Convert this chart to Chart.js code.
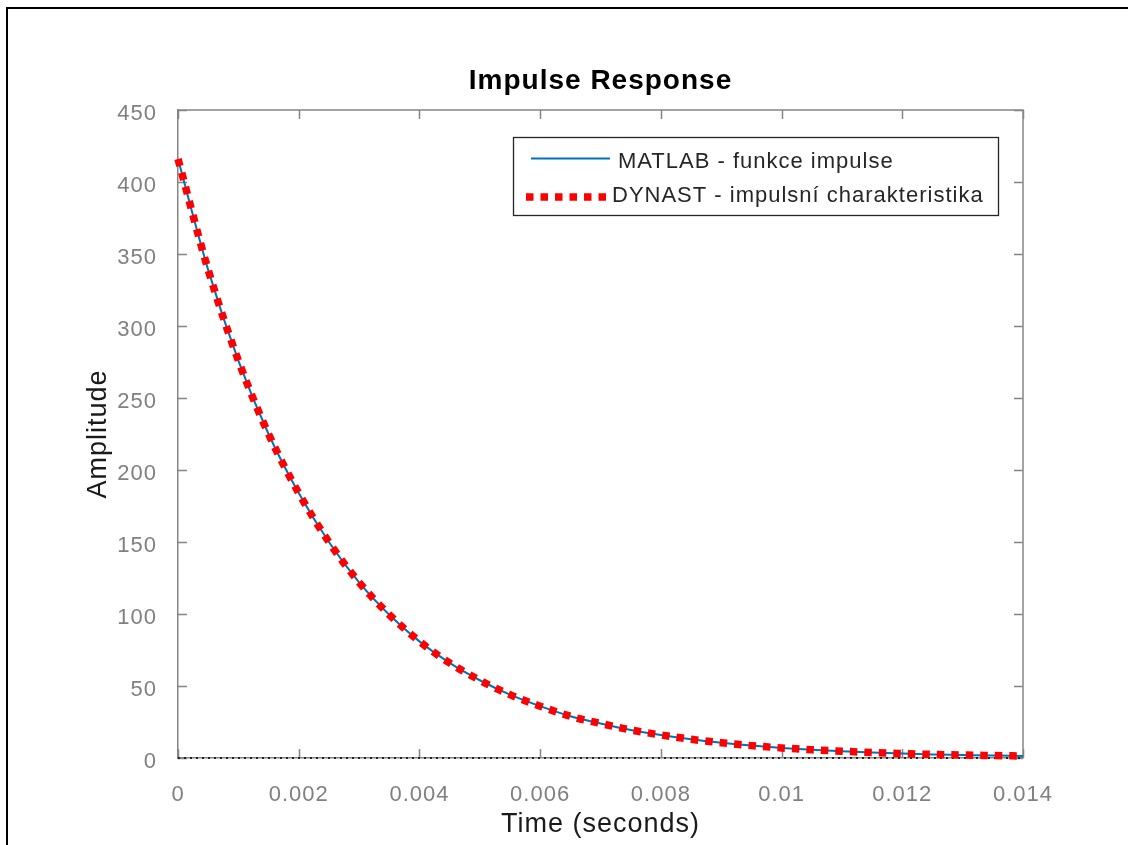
<!DOCTYPE html>
<html lang="en">
<head>
    <meta charset="UTF-8">
    <title>Impulse Response</title>
    <script src="https://cdn.jsdelivr.net/npm/chart.js"></script>
    <style>
        html, body {
            margin: 0;
            padding: 0;
            background: #fff;
            overflow: hidden;
        }
        .frame {
            position: absolute;
            left: 6px;
            top: 7px;
            width: 1200px;
            height: 900px;
            border-left: 2px solid #000;
            border-top: 2px solid #000;
        }
        .wrap {
            position: absolute;
            left: 0;
            top: 0;
            width: 1128px;
            height: 845px;
        }
    </style>
</head>
<body>
    <div class="frame"></div>
    <div class="wrap"><canvas id="impulse"></canvas></div>
    <script>
        // values (time in seconds)
        const timeSec = [0, 0.0005, 0.001, 0.0015, 0.002, 0.0025, 0.003, 0.0035, 0.004, 0.0045,
            0.005, 0.0055, 0.006, 0.0065, 0.007, 0.0075, 0.008, 0.0085, 0.009, 0.0095,
            0.01, 0.0105, 0.011, 0.0115, 0.012, 0.0125, 0.013, 0.0135, 0.014];
        const matlabImpulse = [416, 339, 276, 225, 184, 150, 122, 99.5, 81, 66,
            54, 44, 36, 29, 24, 19.5, 16, 13, 10.6, 8.6,
            7, 5.7, 4.7, 3.8, 3.1, 2.5, 2.1, 1.7, 1.4];
        const dynastImpulse = [416, 339, 276, 225, 184, 150, 122, 99.5, 81, 66,
            54, 44, 36, 29, 24, 19.5, 16, 13, 10.6, 8.6,
            7, 5.7, 4.7, 3.8, 3.1, 2.5, 2.1, 1.7, 1.4];
        const zeroLineX = [0, 0.014];
        const zeroLineY = [0, 0];

        const xTicks = [0, 0.002, 0.004, 0.006, 0.008, 0.01, 0.012, 0.014];
        const xTickLabels = ['0', '0.002', '0.004', '0.006', '0.008', '0.01', '0.012', '0.014'];
        const yTicks = [0, 50, 100, 150, 200, 250, 300, 350, 400, 450];
        const yTickLabels = ['0', '50', '100', '150', '200', '250', '300', '350', '400', '450'];

        const seriesNames = ['MATLAB - funkce impulse', 'DYNAST - impulsní charakteristika'];

        const axisGray = '#858585';
        const matlabBlue = '#0072BD';
        const dynastRed = '#ff0000';

        Chart.defaults.font.family = "'Liberation Sans', Arial, sans-serif";

        const toPoints = (xs, ys) => xs.map((x, i) => ({ x: x, y: ys[i] }));

        // MATLAB-ish text looks a bit wider than Arial
        const spacing = {
            id: 'spacing',
            beforeUpdate(chart) { chart.ctx.letterSpacing = '1px'; },
            beforeDraw(chart) { chart.ctx.letterSpacing = '1px'; }
        };

        // box on + ticks pointing inward on all four sides
        const axesBox = {
            id: 'axesBox',
            beforeDatasetsDraw(chart) {
                const { ctx, chartArea: a, scales: { x, y } } = chart;
                const len = 9;
                ctx.save();
                ctx.strokeStyle = axisGray;
                ctx.lineWidth = 1.5;
                ctx.beginPath();
                x.ticks.forEach(t => {
                    const px = Math.round(x.getPixelForValue(t.value)) + 0.5;
                    ctx.moveTo(px, a.bottom); ctx.lineTo(px, a.bottom - len);
                    ctx.moveTo(px, a.top); ctx.lineTo(px, a.top + len);
                });
                y.ticks.forEach(t => {
                    const py = Math.round(y.getPixelForValue(t.value)) + 0.5;
                    ctx.moveTo(a.left, py); ctx.lineTo(a.left + len, py);
                    ctx.moveTo(a.right, py); ctx.lineTo(a.right - len, py);
                });
                ctx.moveTo(a.left, a.top); ctx.lineTo(a.right, a.top); ctx.lineTo(a.right, a.bottom);
                ctx.stroke();
                ctx.restore();
            }
        };

        const boxLegend = {
            id: 'boxLegend',
            afterDraw(chart) {
                const ctx = chart.ctx;
                const ds = chart.data.datasets;
                ctx.save();
                ctx.fillStyle = '#fff';
                ctx.fillRect(513, 137, 485, 78);
                ctx.strokeStyle = '#262626';
                ctx.lineWidth = 1.3;
                ctx.strokeRect(513.5, 137.5, 485, 78);

                ctx.lineCap = 'butt';
                ctx.strokeStyle = ds[0].borderColor;
                ctx.lineWidth = ds[0].borderWidth;
                ctx.beginPath();
                ctx.moveTo(531, 158.5); ctx.lineTo(610, 158.5);
                ctx.stroke();

                ctx.strokeStyle = ds[1].borderColor;
                ctx.lineWidth = ds[1].borderWidth;
                ctx.setLineDash(ds[1].borderDash);
                ctx.beginPath();
                ctx.moveTo(526, 197); ctx.lineTo(612, 197);
                ctx.stroke();
                ctx.setLineDash([]);

                ctx.letterSpacing = '1px';
                ctx.fillStyle = '#262626';
                ctx.font = "22px 'Liberation Sans', Arial, sans-serif";
                ctx.textBaseline = 'middle';
                ctx.fillText(ds[0].label, 618, 162);
                ctx.fillText(ds[1].label, 612, 196);
                ctx.restore();
            }
        };

        new Chart(document.getElementById('impulse'), {
            type: 'line',
            data: {
                datasets: [
                    {
                        label: seriesNames[0],
                        data: toPoints(timeSec, matlabImpulse),
                        borderColor: matlabBlue,
                        borderWidth: 2,
                        pointRadius: 0,
                        cubicInterpolationMode: 'monotone',
                        order: 1
                    },
                    {
                        label: seriesNames[1],
                        data: toPoints(timeSec, dynastImpulse),
                        borderColor: dynastRed,
                        borderWidth: 7.5,
                        borderDash: [7.5, 7],
                        borderCapStyle: 'butt',
                        pointRadius: 0,
                        cubicInterpolationMode: 'monotone',
                        clip: false,
                        order: 0
                    },
                    {
                        label: 'zero',
                        data: toPoints(zeroLineX, zeroLineY),
                        borderColor: '#222',
                        borderWidth: 2,
                        borderDash: [2, 4],
                        pointRadius: 0,
                        clip: false,
                        order: 2
                    }
                ]
            },
            options: {
                responsive: true,
                maintainAspectRatio: false,
                animation: false,
                layout: { padding: { top: 0, left: 0, right: 105, bottom: 0 } },
                plugins: {
                    legend: { display: false },
                    tooltip: { enabled: false },
                    title: {
                        display: true,
                        fullSize: false,
                        text: 'Impulse Response',
                        color: '#000',
                        font: { size: 28, weight: 'bold' },
                        padding: { top: 64, bottom: 12.4 }
                    }
                },
                scales: {
                    x: {
                        type: 'linear',
                        min: 0,
                        max: 0.014,
                        afterBuildTicks: s => { s.ticks = xTicks.map(v => ({ value: v })); },
                        afterFit: s => { s.height = 87; },
                        grid: { display: false },
                        border: { display: true, color: axisGray, width: 1.5 },
                        ticks: {
                            color: '#808080',
                            font: { size: 22 },
                            padding: 16,
                            maxRotation: 0,
                            autoSkip: false,
                            callback: (v, i) => xTickLabels[i]
                        },
                        title: {
                            display: true,
                            text: 'Time (seconds)',
                            color: '#1a1a1a',
                            font: { size: 27 },
                            padding: { top: 0, bottom: 4 }
                        }
                    },
                    y: {
                        min: 0,
                        max: 450,
                        afterBuildTicks: s => { s.ticks = yTicks.map(v => ({ value: v })); },
                        afterFit: s => { s.width = 178; },
                        grid: { display: false },
                        border: { display: true, color: axisGray, width: 1.5 },
                        ticks: {
                            color: '#808080',
                            font: { size: 22 },
                            padding: 13,
                            labelOffset: 4,
                            autoSkip: false,
                            callback: (v, i) => yTickLabels[i]
                        },
                        title: {
                            display: true,
                            text: 'Amplitude',
                            color: '#1a1a1a',
                            font: { size: 27 },
                            padding: { top: 82, bottom: 0 }
                        }
                    }
                }
            },
            plugins: [spacing, axesBox, boxLegend]
        });
    </script>
</body>
</html>
